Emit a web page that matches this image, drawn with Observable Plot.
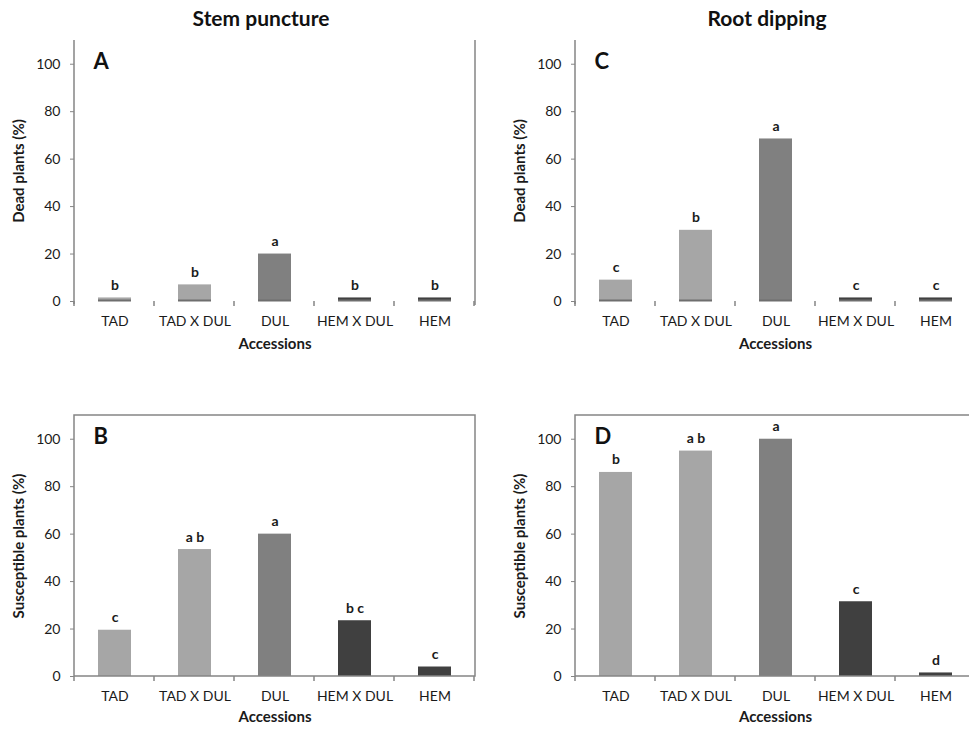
<!DOCTYPE html>
<html><head><meta charset="utf-8">
<script src="https://cdn.jsdelivr.net/npm/d3@7"></script>
<script src="https://cdn.jsdelivr.net/npm/@observablehq/plot@0.6"></script>
<style>
html,body{margin:0;padding:0;background:#fff;overflow:hidden;width:969px;height:735px;}
#wrap{position:relative;width:969px;height:735px;overflow:hidden;font-family:Lato,sans-serif;}
.panel{position:absolute;}
.title{position:absolute;top:5px;font:bold 21px Lato,sans-serif;color:#111;transform:translateX(-50%);white-space:nowrap;}
</style></head><body>
<div id="wrap">
<div class="title" style="left:261px">Stem puncture</div>
<div class="title" style="left:767px">Root dipping</div>
</div>
<script>
const accessions = ["TAD", "TAD X DUL", "DUL", "HEM X DUL", "HEM"];
const barColors = ["#a6a6a6", "#a6a6a6", "#808080", "#404040", "#404040"];
const yTicks = [0, 20, 40, 60, 80, 100];
const stemDead = [1.5, 7, 20, 1.5, 1.5];
const stemDeadLetters = ["b", "b", "a", "b", "b"];
const stemSusc = [19.5, 53.5, 60, 23.5, 4];
const stemSuscLetters = ["c", "a b", "a", "b c", "c"];
const rootDead = [9, 30, 68.5, 1.5, 1.5];
const rootDeadLetters = ["c", "b", "a", "c", "c"];
const rootSusc = [86, 95, 100, 31.5, 1.5];
const rootSuscLetters = ["b", "a b", "a", "c", "d"];

const axisColor = "#858585";
const textColor = "#1a1a1a";

function panel({values, letters, tag, ylabel, left, top, width, marginLeft, height, marginBottom, topPanel, labelDy}) {
  const data = accessions.map((a, i) => ({acc: a, v: values[i], letter: letters[i]}));
  const deco = (index, scales, vals, dims) => {
    const g = d3.create("svg:g").attr("stroke", axisColor).attr("fill", "none").attr("stroke-width", 1.5);
    const x0 = dims.marginLeft, x1 = dims.width - dims.marginRight;
    const yB = dims.height - dims.marginBottom, yT = dims.marginTop;
    const step = scales.x(accessions[1]) - scales.x(accessions[0]);
    for (let k = 0; k <= accessions.length; k++) {
      const xx = x0 + k * step;
      g.append("line").attr("x1", xx).attr("x2", xx).attr("y1", yB).attr("y2", yB + 5);
    }
    if (topPanel) {
      g.append("line").attr("x1", x0).attr("x2", x0).attr("y1", yT).attr("y2", yB + 3);
      if (x1 < 969 - left) g.append("line").attr("x1", x1).attr("x2", x1).attr("y1", yT).attr("y2", yB + 4);
    } else {
      g.append("rect").attr("x", x0).attr("y", yT).attr("width", x1 - x0).attr("height", yB - yT);
    }
    return g.node();
  };
  const marks = [
    Plot.barY(data, {x: "acc", y: "v", fill: "acc"}),
  ];
  if (topPanel) {
    marks.push(Plot.tickY(data, {x: "acc", y: () => 0, stroke: "#6e6e6e", strokeWidth: 2, dy: -1}));
  }
  marks.push(
    deco,
    Plot.axisY({ticks: yTicks, tickSize: 4, tickPadding: 10, stroke: axisColor, fill: textColor, fontSize: 14, label: null, tickFormat: d => d}),
    Plot.axisX({tickSize: 0, tickPadding: 15, fill: textColor, fontSize: 14, label: null, style: {letterSpacing: "0.4px"}}),
    Plot.text(data, {x: "acc", y: "v", text: "letter", lineAnchor: "bottom", dy: -8, fontSize: 14, fontWeight: "bold", fill: textColor}),
    Plot.text([tag], {text: d => d, frameAnchor: "top-left", dx: 19, dy: 13, textAnchor: "start", lineAnchor: "top", fontSize: 22, fontWeight: "bold", fill: "#111"}),
    Plot.text([ylabel], {text: d => d, frameAnchor: "left", textAnchor: "middle", rotate: -90, dx: -55, fontSize: 15, fontWeight: "bold", fill: textColor}),
    Plot.text(["Accessions"], {text: d => d, frameAnchor: "bottom", dy: labelDy, fontSize: 15, fontWeight: "bold", fill: textColor})
  );
  const chart = Plot.plot({
    width, height,
    marginLeft, marginRight: 5, marginTop: 40, marginBottom,
    x: {domain: accessions, paddingInner: 0.59, paddingOuter: 0.295, label: null},
    y: {domain: [0, 110], label: null},
    color: {domain: accessions, range: barColors},
    style: {fontFamily: "Lato, sans-serif", background: "transparent", overflow: "visible", color: textColor},
    marks
  });
  chart.classList.add("panel");
  chart.style.left = left + "px";
  chart.style.top = top + "px";
  document.getElementById("wrap").appendChild(chart);
}

panel({values: stemDead, letters: stemDeadLetters, tag: "A", ylabel: "Dead plants (%)", left: 0, top: 0, width: 480, marginLeft: 74, height: 365, marginBottom: 64, topPanel: true, labelDy: 47});
panel({values: rootDead, letters: rootDeadLetters, tag: "C", ylabel: "Dead plants (%)", left: 480, top: 0, width: 500, marginLeft: 95, height: 365, marginBottom: 64, topPanel: true, labelDy: 47});
panel({values: stemSusc, letters: stemSuscLetters, tag: "B", ylabel: "Susceptible plants (%)", left: 0, top: 375, width: 480, marginLeft: 74, height: 361, marginBottom: 60, topPanel: false, labelDy: 45});
panel({values: rootSusc, letters: rootSuscLetters, tag: "D", ylabel: "Susceptible plants (%)", left: 480, top: 375, width: 500, marginLeft: 95, height: 361, marginBottom: 60, topPanel: false, labelDy: 45});
</script>
</body></html>
